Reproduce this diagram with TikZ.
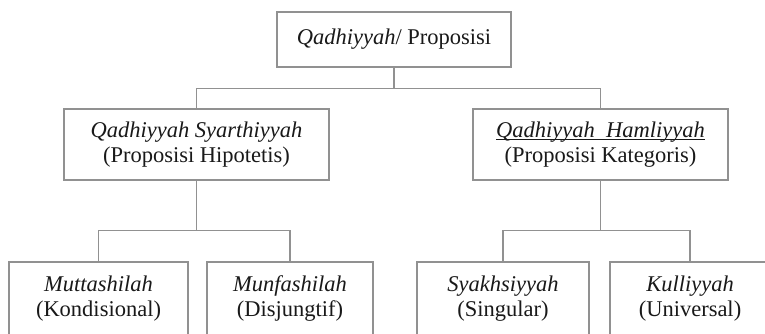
\documentclass[tikz,border=0pt]{standalone}
\usepackage{fontspec}
\setmainfont{Liberation Serif}
\usepackage{tikz}
\usetikzlibrary{positioning}
\usepackage{xcolor}
\definecolor{lineGray}{RGB}{145,145,145}
\definecolor{textBlack}{RGB}{25,25,25}
\newcommand{\lineUnder}[1]{\setbox0\hbox{#1}\rlap{\rule[-2.5pt]{\wd0}{1.1pt}}\box0}
\tikzset{
  branchbox/.style={draw=lineGray, line width=1.4pt, text=textBlack, align=center,
    inner sep=0pt, font=\fontsize{22.5}{25}\selectfont},
  branchline/.style={draw=lineGray, line width=1.4pt}
}

\begin{document}
\begin{tikzpicture}[x=1pt,y=-1pt]
        \fill[white] (0,0) rectangle (765,334);
        \clip (0,0) rectangle (765,334);

        % top level
        \node[branchbox, minimum width=234pt, minimum height=55pt] (root) at (394, 39.5)
            {\textit{Qadhiyyah}/ Proposisi};

        % second level
        \node[branchbox, minimum width=265pt, minimum height=71pt] (hyp) at (196.5, 144.5)
            {\textit{Qadhiyyah Syarthiyyah}\\(Proposisi Hipotetis)};
        \node[branchbox, minimum width=255pt, minimum height=71pt] (kat) at (600.5, 144.5)
            {\lineUnder{\textit{Qadhiyyah\ \ Hamliyyah}}\\(Proposisi Kategoris)};

        % third level
        \node[branchbox, minimum width=179pt, minimum height=74pt] (mut) at (98.5, 299)
            {\textit{Muttashilah}\\(Kondisional)};
        \node[branchbox, minimum width=166pt, minimum height=74pt] (mun) at (290, 299)
            {\textit{Munfashilah}\\(Disjungtif)};
        \node[branchbox, minimum width=172pt, minimum height=74pt] (syak) at (503, 299)
            {\textit{Syakhsiyyah}\\(Singular)};
        \node[branchbox, minimum width=160pt, minimum height=74pt] (kul) at (690, 299)
            {\textit{Kulliyyah}\\(Universal)};

        % connectors
        \draw[branchline] (root.south) -- ++(0,21) -| (hyp.north);
        \draw[branchline] (root.south) -- ++(0,21) -| (kat.north);
        \draw[branchline] (hyp.south) -- ++(0,50) -| (mut.north);
        \draw[branchline] (hyp.south) -- ++(0,50) -| (mun.north);
        \draw[branchline] (kat.south) -- ++(0,50) -| (syak.north);
        \draw[branchline] (kat.south) -- ++(0,50) -| (kul.north);
\end{tikzpicture}
\end{document}
